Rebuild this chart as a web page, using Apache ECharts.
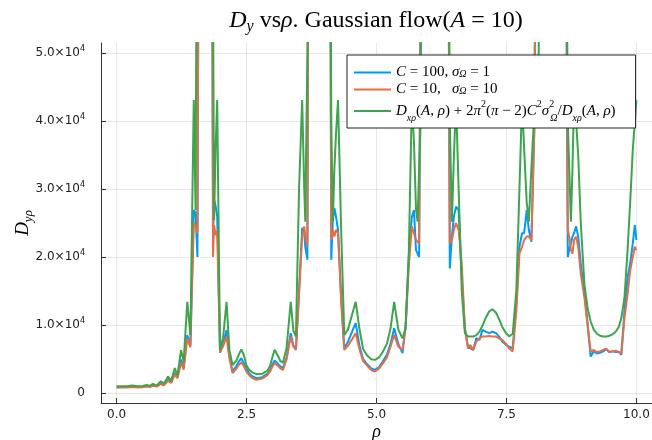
<!DOCTYPE html>
<html><head><meta charset="utf-8">
<script src="https://cdn.jsdelivr.net/npm/echarts@6/dist/echarts.min.js"></script>
<style>html,body{margin:0;padding:0;background:#fff}#c{width:652px;height:440px}</style>
</head><body><div id="c"></div>
<script>
// ---- data ----
const rho = [0.00,0.10,0.20,0.30,0.40,0.50,0.58,0.64,0.70,0.77,0.85,0.91,0.99,1.05,1.12,1.17,1.24,1.29,1.36,1.42,
1.485,1.52,1.555,1.60,1.65,1.70,1.75,1.80,1.83,1.855,1.875,1.905,1.935,1.99,2.05,2.115,2.17,2.23,2.30,2.35,
2.40,2.45,2.50,2.55,2.60,2.69,2.80,2.90,2.95,3.00,3.04,3.10,3.15,3.20,3.27,3.35,3.40,3.45,3.51,3.57,
3.61,3.63,3.67,3.70,3.80,3.90,4.00,4.10,4.13,4.16,4.19,4.22,4.26,4.32,4.38,4.45,4.53,4.60,4.67,4.74,
4.82,4.90,4.97,5.05,5.12,5.20,5.27,5.34,5.42,5.50,5.56,5.62,5.68,5.72,5.76,5.79,5.82,5.85,5.89,6.00,
6.10,6.20,6.30,6.37,6.41,6.45,6.49,6.53,6.58,6.64,6.70,6.76,6.80,6.86,6.92,6.98,7.04,7.10,7.17,7.23,
7.30,7.36,7.42,7.49,7.55,7.62,7.69,7.75,7.80,7.84,7.89,7.93,7.98,8.04,8.07,8.12,8.16,8.30,8.45,8.58,
8.63,8.68,8.72,8.74,8.77,8.80,8.84,8.88,8.93,9.00,9.06,9.12,9.18,9.24,9.30,9.36,9.42,9.48,9.54,9.60,
9.66,9.71,9.77,9.83,9.88,9.93,9.97,10.00];
const blueVals = [830,840,850,920,860,900,1000,920,1150,980,1400,1180,1900,1550,2950,2250,4900,3700,8500,7000,
26900,26500,20000,120000,150000,140000,150000,120000,95000,23000,28500,27500,26000,5900,7200,9260,5400,3150,3900,4600,
5100,4300,3500,2900,2500,2160,2300,2800,3300,4200,4750,4300,3900,3630,5200,8780,7000,6300,15000,24300,
23500,21500,19600,95000,150000,140000,150000,95000,19600,25400,27200,26000,24000,14000,6570,7500,9000,10250,7000,5000,
4200,3600,3380,3800,4600,5600,7200,9500,7200,5830,10000,20000,25900,26900,21000,20500,20000,60000,95000,150000,
140000,150000,140000,95000,18300,23000,26000,27400,26900,17000,9500,6800,6570,6320,8040,7800,9260,9020,8780,9020,
8780,8280,7550,7060,6800,6570,13000,21500,23500,23500,26900,24000,22250,40000,95000,150000,150000,140000,150000,140000,
95000,20000,21500,22000,23000,23500,24500,23000,19000,14700,10250,5340,6100,5800,5900,6100,6400,6000,6100,6000,
6050,5590,12000,17000,19000,22000,24700,22500];
const orangeVals = [780,790,800,840,800,830,920,860,1050,920,1280,1100,1750,1450,2750,2150,4500,3400,8000,6700,
25000,24500,23500,120000,150000,140000,150000,120000,95000,20000,24700,23200,23800,6000,6900,8280,5100,2900,3500,4100,
4500,3900,3100,2600,2200,1910,2100,2600,3100,3900,4360,4000,3600,3380,4900,8280,6800,6400,14500,23000,
24500,23000,21500,95000,150000,140000,150000,95000,22500,24000,23000,24000,23500,13500,6320,6900,7900,8780,6500,4700,
4000,3350,3130,3600,4300,5200,6800,8530,6800,6320,9500,18500,24500,23500,22500,22500,22000,60000,95000,150000,
140000,150000,140000,95000,22000,22500,24000,25000,24000,19000,9500,6500,7060,6320,7550,8040,8280,8300,8350,8300,
8280,8000,7800,7200,6570,6080,12000,20500,21500,22500,23000,23000,22500,40000,95000,150000,150000,140000,150000,140000,
95000,24000,22500,21000,20500,22500,23000,21500,17500,14000,10000,6080,6300,6000,6100,6300,6500,6000,6100,6200,
6000,5730,11000,14500,18000,20000,21500,21000];
const greenVals = [950,960,960,1060,970,1020,1160,1020,1320,1060,1700,1350,2400,1800,3650,2550,6300,4600,13400,8500,
43100,26900,95000,150000,150000,150000,150000,150000,95000,60000,25400,36000,43100,6320,8200,13400,6300,4100,4700,5600,
6400,5500,4000,3400,3050,2750,2800,3250,3900,5300,6350,5500,4700,4450,6600,13400,9200,8280,30000,43100,
30000,25200,50000,95000,150000,140000,150000,95000,40000,25200,33000,38000,43100,24000,8530,9300,11500,13400,9500,6500,
5500,4950,4850,5200,6000,7200,9500,13400,9300,8040,9500,20000,43000,37000,27000,25200,33000,40000,150000,150000,
140000,150000,140000,95000,40000,25200,35000,43000,30000,15000,8800,8300,8280,8280,8500,9000,9900,11000,12000,12300,
11800,10800,9700,8800,8300,8700,15000,30000,43000,36000,28000,25200,33000,42000,45000,48000,150000,140000,150000,140000,
95000,40000,30000,25200,33000,43000,40000,35000,25000,16000,12500,10500,9300,8700,8400,8280,8300,8400,8600,9000,
9700,11000,14000,21000,28000,35700,40000,43100];
const xTicks = [0, 2.5, 5, 7.5, 10];
const yTicks = [0, 10000, 20000, 30000, 40000, 50000];
const seriesKeys = ['s1', 's2', 's3'];
const seriesColors = ['#009AFA', '#E36F47', '#3EA44E'];
const seriesVals = [blueVals, orangeVals, greenVals];

// ---- rich text pieces ----
const SERIF = 'Liberation Serif';
const SANS = 'DejaVu Sans';
const legendLabels = {
  s1: '{i|C}{r| = 100, }{i|σ}{s|Ω}{r| = 1}',
  s2: '{i|C}{r| = 10,   }{i|σ}{s|Ω}{r| = 10}',
  s3: '{I|D}{S|xρ}{R|(}{I|A}{R|, }{I|ρ}{R|) + 2}{I|π}{P|2}{R|(}{I|π}{R| − 2)}{I|C}{P|2}{I|σ}{Q|2}{S|Ω}{R|/}{I|D}{S|xρ}{R|(}{I|A}{R|, }{I|ρ}{R|)}'
};
function st(size, lh, extra) {
  return Object.assign({fontFamily: SERIF, fontSize: size, lineHeight: lh, fontWeight: 'normal', color: '#000'}, extra || {});
}

const chart = echarts.init(document.getElementById('c'), null, {renderer: 'canvas'});
chart.setOption({
  animation: false,
  backgroundColor: '#fff',
  title: {
    text: '{i|D}{s|y}{r| vs}{i|ρ}{r|. Gaussian flow(}{i|A}{r| = 10)}',
    left: 376, top: 7, padding: 0, textAlign: 'center',
    textStyle: {
      fontWeight: 'normal',
      rich: {
        r: st(24, 28),
        i: st(24, 28, {fontStyle: 'italic'}),
        s: st(16, 18, {fontStyle: 'italic', verticalAlign: 'bottom'})
      }
    }
  },
  grid: {left: 101, right: 0, top: 43, bottom: 37, containLabel: false, outerBoundsMode: 'none'},
  legend: {
    orient: 'vertical', left: 347, top: 55,
    padding: [10, 20, 5, 7], itemGap: 2,
    icon: 'rect', itemWidth: 37, itemHeight: 2,
    backgroundColor: '#fff', borderColor: '#222', borderWidth: 1,
    data: seriesKeys,
    formatter: n => legendLabels[n],
    textStyle: {
      rich: {
        r: st(15, 14),
        i: st(15, 14, {fontStyle: 'italic'}),
        s: st(10, 6, {fontStyle: 'italic', verticalAlign: 'bottom'}),
        R: st(15, 24),
        I: st(15, 24, {fontStyle: 'italic'}),
        S: st(10, 16, {fontStyle: 'italic', verticalAlign: 'bottom'}),
        P: st(10, 14, {verticalAlign: 'top'}),
        Q: st(10, 14, {width: 1, verticalAlign: 'top'})
      }
    }
  },
  xAxis: {
    type: 'value', min: -0.3, max: 10.3,
    name: '{i|ρ}', nameLocation: 'middle', nameGap: 20, nameMoveOverlap: false,
    nameTextStyle: {rich: {i: st(18, 18, {fontStyle: 'italic'})}},
    axisLine: {show: true, onZero: false, lineStyle: {color: '#333', width: 1}},
    axisTick: {show: true, inside: true, length: 5, customValues: xTicks, lineStyle: {color: '#333'}},
    axisLabel: {customValues: xTicks, formatter: v => v.toFixed(1), fontFamily: SANS, fontSize: 12, color: '#222', margin: 6},
    splitLine: {show: true, lineStyle: {color: 'rgba(0,0,0,0.09)', width: 1}}
  },
  yAxis: {
    type: 'value', min: -1500, max: 51500,
    name: '{i|D}{s|yρ}', nameLocation: 'middle', nameRotate: 90, nameGap: 66, nameMoveOverlap: false,
    nameTextStyle: {rich: {
      i: st(19, 24, {fontStyle: 'italic'}),
      s: st(13, 14, {fontStyle: 'italic', verticalAlign: 'bottom'})
    }},
    axisLine: {show: true, onZero: false, lineStyle: {color: '#333', width: 1}},
    axisTick: {show: true, inside: true, length: 5, customValues: yTicks, lineStyle: {color: '#333'}},
    axisLabel: {
      customValues: yTicks, margin: 16,
      formatter: v => v === 0 ? '{n|0}' : '{n|' + (v / 1e4).toFixed(1) + '×10}{e|4}',
      rich: {
        n: {fontFamily: SANS, fontSize: 12, lineHeight: 16, color: '#222'},
        e: {fontFamily: SANS, fontSize: 8, lineHeight: 8, verticalAlign: 'top', color: '#222'}
      }
    },
    splitLine: {show: true, lineStyle: {color: 'rgba(0,0,0,0.09)', width: 1}}
  },
  series: seriesKeys.map((k, j) => ({
    name: k, type: 'line', showSymbol: false, symbol: 'none', clip: true,
    color: seriesColors[j],
    lineStyle: {width: 2, color: seriesColors[j]},
    data: rho.map((r, i) => [r, seriesVals[j][i]])
  }))
});
</script></body></html>
